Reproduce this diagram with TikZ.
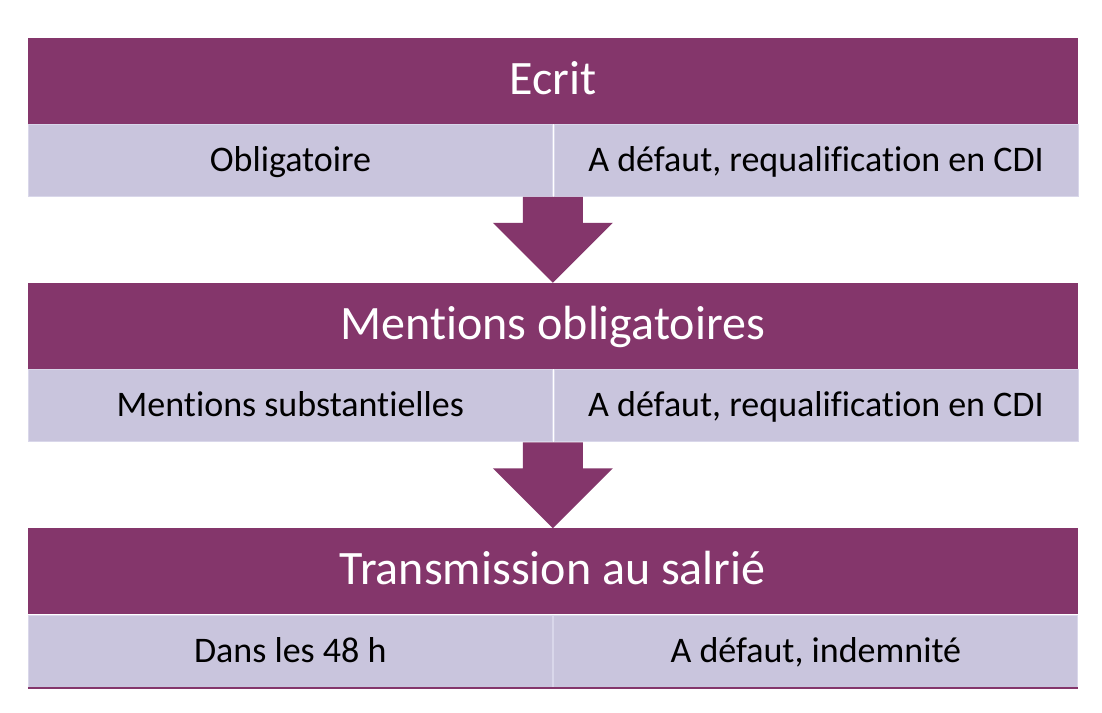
\documentclass[tikz,border=0pt]{standalone}
\usepackage{fontspec}
\setmainfont{Carlito}[Ligatures=NoCommon]
\usetikzlibrary{positioning,calc}
\definecolor{plum}{HTML}{84366B}
\definecolor{lilac}{HTML}{C9C5DD}
\definecolor{lilacline}{HTML}{D9D7EA}
\tikzset{
  head/.style={fill=plum, text=white, minimum width=1050pt, minimum height=86pt,
    inner sep=0pt, text height=34pt, text depth=7pt, font=\fontsize{48}{52}\selectfont},
  cell/.style={fill=lilac, draw=lilacline, line width=0.8pt, minimum width=524pt,
    minimum height=72pt, inner sep=0pt, text height=26pt, text depth=4pt,
    font=\fontsize{36}{40}\selectfont},
  blockarrow/.style={fill=plum}
}

\begin{document}
\begin{tikzpicture}
\useasboundingbox[fill=white] (0,0) rectangle (1102pt,-712pt);
\pgfmathsetmacro{\STEMW}{30}
\pgfmathsetmacro{\HEADW}{60}
\pgfmathsetmacro{\STEML}{26}
% first block
\node[head] (h1) at (553pt,-80.5pt) {Ecrit};
\node[cell, below right=0.4pt of h1.south west] (l1) {Obligatoire};
\node[cell, right=0.8pt of l1] (r1) {A défaut, requalification en CDI};
% second block
\node[head, below=86pt of l1.south east] (h2) {Mentions obligatoires};
\node[cell, below right=0.4pt of h2.south west] (l2) {Mentions substantielles};
\node[cell, right=0.8pt of l2] (r2) {A défaut, requalification en CDI};
% third block
\node[head, below=86pt of l2.south east] (h3) {Transmission au salrié};
\node[cell, below right=0.4pt of h3.south west] (l3) {Dans les 48 h};
\node[cell, right=0.8pt of l3] (r3) {A défaut, indemnité};
\draw[plum, line width=1.5pt] (l3.south west) -- (r3.south east);
% arrows
\foreach \from/\to in {l1/h2, l2/h3}{
  \fill[blockarrow] ($(\from.south east)+(-\STEMW pt,0)$) -- ++(2*\STEMW pt,0)
    -- ++(0,-\STEML pt) -- ++(\HEADW pt-\STEMW pt,0) -- (\to.north)
    -- ($(\from.south east)+(-\HEADW pt,-\STEML pt)$) -- ++(\HEADW pt-\STEMW pt,0) -- cycle;
}
\end{tikzpicture}
\end{document}
